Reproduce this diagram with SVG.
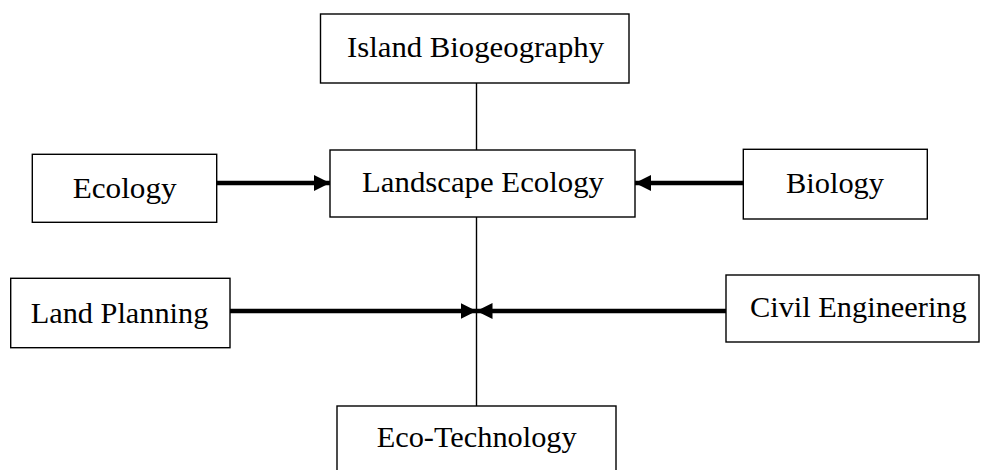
<svg xmlns="http://www.w3.org/2000/svg" width="982" height="470" viewBox="0 0 982 470">
<style>
.box{fill:#fff;stroke:#000;stroke-width:1.4}
.lbl{font-family:"Liberation Serif","Times New Roman",serif;font-size:30px;fill:#000}
.thin{stroke:#000;stroke-width:1.4;fill:none}
.thick{stroke:#000;stroke-width:4.5;fill:none}
</style>
<defs>
<marker id="ah" markerUnits="userSpaceOnUse" markerWidth="16" markerHeight="16" refX="16" refY="8" orient="auto" viewBox="0 0 16 16">
<path d="M0,0 L16,8 L0,16 z" fill="#000"/>
</marker>
</defs>
<rect width="982" height="470" fill="#fff"/>
<g id="connectors">
<line class="thin" x1="476.5" y1="83" x2="476.5" y2="150"/>
<line class="thin" x1="476.5" y1="217" x2="476.5" y2="406"/>
<line class="thick" x1="217" y1="183" x2="330" y2="183" marker-end="url(#ah)"/>
<line class="thick" x1="743" y1="183" x2="635" y2="183" marker-end="url(#ah)"/>
<line class="thick" x1="230" y1="311" x2="476.5" y2="311" marker-end="url(#ah)"/>
<line class="thick" x1="726" y1="311" x2="476.5" y2="311" marker-end="url(#ah)"/>
</g>
<g id="island">
<rect class="box" x="320.5" y="14" width="308.5" height="69"/>
<text class="lbl" x="347" y="56.7" textLength="257" lengthAdjust="spacingAndGlyphs">Island Biogeography</text>
</g>
<g id="landscape">
<rect class="box" x="330" y="150" width="305" height="67"/>
<text class="lbl" x="362" y="191.7" textLength="242" lengthAdjust="spacingAndGlyphs">Landscape Ecology</text>
</g>
<g id="ecology">
<rect class="box" x="32.3" y="154.3" width="184.4" height="68"/>
<text class="lbl" x="72.7" y="197.7" textLength="104" lengthAdjust="spacingAndGlyphs">Ecology</text>
</g>
<g id="biology">
<rect class="box" x="743.3" y="149.3" width="184" height="69.7"/>
<text class="lbl" x="786" y="193.3" textLength="98" lengthAdjust="spacingAndGlyphs">Biology</text>
</g>
<g id="landplanning">
<rect class="box" x="10.7" y="278.3" width="219.3" height="69.4"/>
<text class="lbl" x="30.7" y="323.3" textLength="177.6" lengthAdjust="spacingAndGlyphs">Land Planning</text>
</g>
<g id="civil">
<rect class="box" x="726" y="275" width="253" height="67"/>
<text class="lbl" x="750" y="316.7" textLength="216.7" lengthAdjust="spacingAndGlyphs">Civil Engineering</text>
</g>
<g id="ecotech">
<rect class="box" x="337" y="406" width="279" height="70"/>
<text class="lbl" x="376.7" y="446.7" textLength="200" lengthAdjust="spacingAndGlyphs">Eco-Technology</text>
</g>
</svg>
